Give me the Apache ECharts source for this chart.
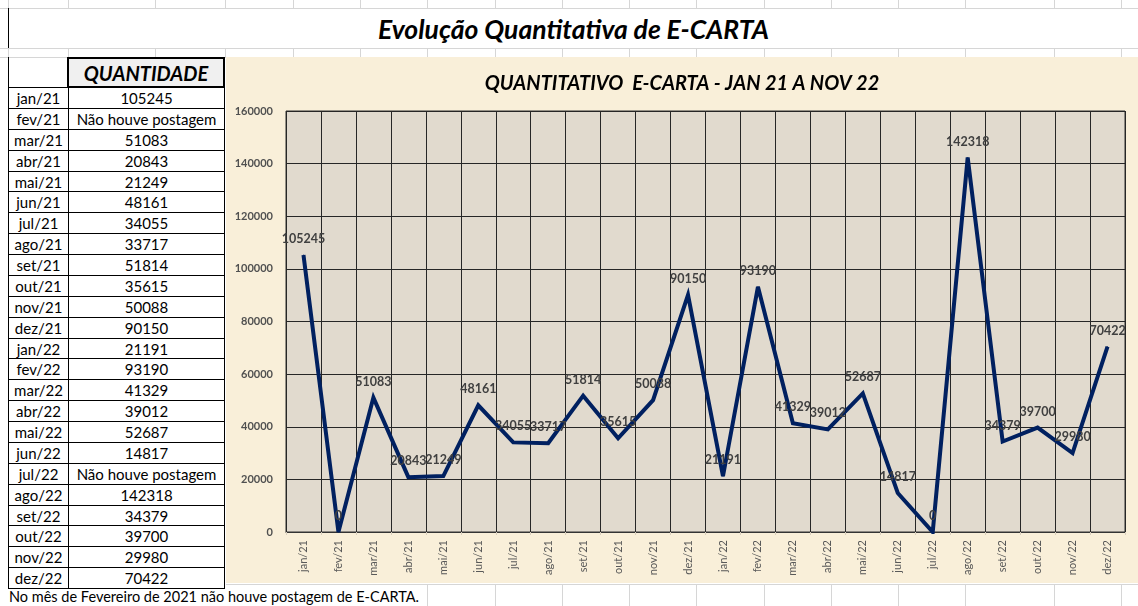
<!DOCTYPE html>
<html><head><meta charset="utf-8">
<script src="https://cdn.jsdelivr.net/npm/echarts@6/dist/echarts.min.js"></script>
<style>
body{margin:0;width:1138px;height:606px;overflow:hidden;background:#fff;position:relative;font-family:Lato,'Open Sans',sans-serif;color:#000}
.gv{position:absolute;width:1px;background:#d6d6d6}
.gh{position:absolute;height:1px;background:#d6d6d6}
.cell{position:absolute;box-sizing:border-box;text-align:center;font-size:15px;background:#fff;white-space:nowrap}
</style></head><body>
<div id="sheet"></div>
<div id="chart" style="position:absolute;left:226px;top:57px;width:912px;height:526px"></div>
<script>
// ---- data ----
const months = ['jan/21','fev/21','mar/21','abr/21','mai/21','jun/21','jul/21','ago/21','set/21','out/21','nov/21','dez/21',
                'jan/22','fev/22','mar/22','abr/22','mai/22','jun/22','jul/22','ago/22','set/22','out/22','nov/22','dez/22'];
const tableValues = ['105245','Não houve postagem','51083','20843','21249','48161','34055','33717','51814','35615','50088','90150',
                     '21191','93190','41329','39012','52687','14817','Não houve postagem','142318','34379','39700','29980','70422'];
const chartValues = [105245,0,51083,20843,21249,48161,34055,33717,51814,35615,50088,90150,
                     21191,93190,41329,39012,52687,14817,0,142318,34379,39700,29980,70422];
const sheetTitle = 'Evolução Quantitativa de E-CARTA';
const chartTitle = 'QUANTITATIVO  E-CARTA - JAN 21 A NOV 22';
const tableHeader = 'QUANTIDADE';
const footnote = 'No mês de Fevereiro de 2021 não houve postagem de E-CARTA.';

// ---- spreadsheet background ----
const sheet = document.getElementById('sheet');
function add(cls, style, text){const d=document.createElement('div');d.className=cls;d.setAttribute('style',style);if(text!==undefined)d.textContent=text;sheet.appendChild(d);return d;}
const cols=[8,68,155,225,293,360,427,495,562,629,696,764,831,898,965,1054,1121];
cols.forEach(x=>{add('gv',`left:${x}px;top:0;height:8px`);add('gv',`left:${x}px;top:48px;height:9px`);if(x>=427)add('gv',`left:${x}px;top:584px;height:22px`);});
[8,48,57].forEach(y=>add('gh',`left:0;top:${y}px;width:1138px`));
add('gh','left:226px;top:584px;width:912px');
add('', 'position:absolute;left:8px;top:8px;width:1130px;height:40px;border-left:1px solid #000;box-sizing:border-box;text-align:center;line-height:42px;font-weight:bold;font-style:italic;font-size:26.5px;white-space:nowrap', sheetTitle);
// table
add('', 'position:absolute;left:8px;top:57px;width:1px;height:31px;background:#000');
add('', 'position:absolute;left:67px;top:57px;width:158px;height:31px;box-sizing:border-box;border:2px solid #000;background:#f0f0f0;text-align:center;line-height:28px;font-weight:bold;font-style:italic;font-size:20px;white-space:nowrap', tableHeader);
const top0=87, rh=(588-87)/24;
months.forEach((m,i)=>{
  const y=top0+i*rh;
  add('cell',`left:8px;top:${y}px;width:61px;height:${rh+1}px;border:1px solid #000;line-height:${rh}px`, m);
  add('cell',`left:68px;top:${y}px;width:157px;height:${rh+1}px;border:1px solid #000;line-height:${rh}px`, tableValues[i]);
});
add('', 'position:absolute;left:9px;top:588px;font-size:14.5px;line-height:18px;white-space:nowrap', footnote);

// ---- chart ----
const chart = echarts.init(document.getElementById('chart'), null, {renderer:'canvas'});
chart.setOption({
  animation:false,
  backgroundColor:'#f9efd9',
  title:{text:chartTitle,left:'center',top:12,textStyle:{fontFamily:'Lato',fontSize:20,fontWeight:'bold',fontStyle:'italic',color:'#000'}},
  grid:{left:60,top:54,right:13,bottom:51,show:true,backgroundColor:'#e1dace',borderColor:'#333',borderWidth:1},
  xAxis:{type:'category',data:months,boundaryGap:true,
    axisLine:{lineStyle:{color:'#333',width:1}},
    axisTick:{show:true,length:3,lineStyle:{color:'#d8cfbf'}},
    axisLabel:{rotate:90,interval:0,color:'#595959',fontSize:11,fontFamily:'Lato',margin:8},
    splitLine:{show:true,interval:0,lineStyle:{color:'#262626',width:1}}},
  yAxis:{type:'value',min:0,max:160000,interval:20000,
    axisLine:{show:false},axisTick:{show:false},
    axisLabel:{color:'#505050',fontWeight:'bold',fontSize:11,fontFamily:'Lato',margin:13,formatter:v=>String(v)},
    splitLine:{lineStyle:{color:'#262626',width:1}}},
  series:[{type:'line',data:chartValues,symbol:'circle',symbolSize:1,
    itemStyle:{color:'#002060'},
    lineStyle:{color:'#002060',width:4,join:'miter',miterLimit:4},
    label:{show:true,position:'top',distance:9,color:'#404040',fontWeight:'bold',fontSize:12.5,fontFamily:'Lato'}}]
});
</script>
</body></html>
